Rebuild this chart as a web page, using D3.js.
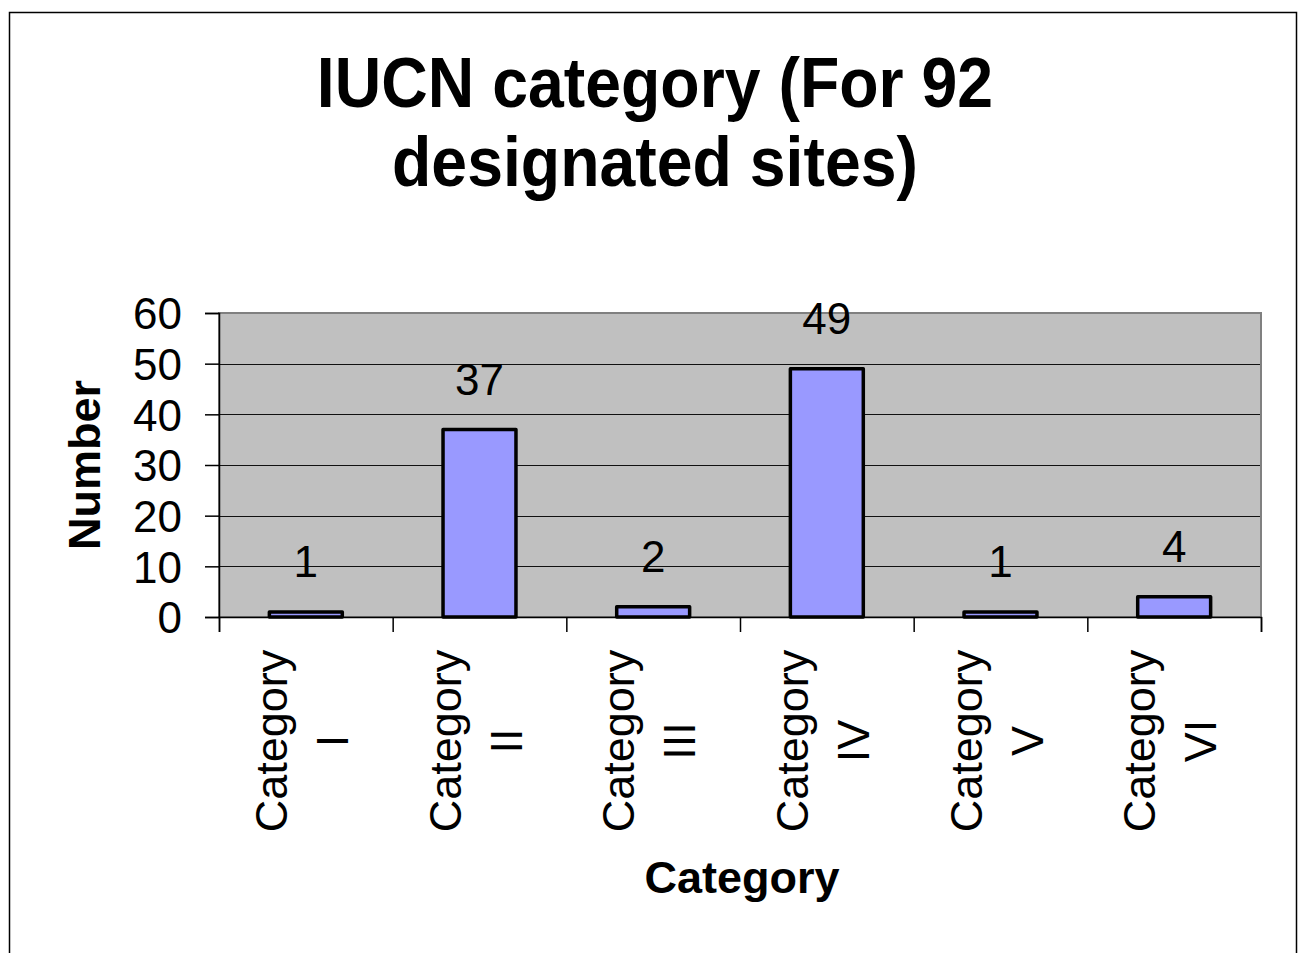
<!DOCTYPE html>
<html>
    <head>
        <meta charset="utf-8">
        <title>IUCN category</title>
        <script src="https://cdn.jsdelivr.net/npm/d3@7"></script>
        <style>
            body { margin: 0; background: #fff; }
            text { font-family: "Liberation Sans", Arial, sans-serif; fill: #000; }
        </style>
    </head>
    <body>
        <div id="chart"></div>
        <script>
            // data
            const categories = ["Category I", "Category II", "Category III", "Category IV", "Category V", "Category VI"];
            const values = [1, 37, 2, 49, 1, 4];
            const yTicks = [0, 10, 20, 30, 40, 50, 60];
            const titleLines = ["IUCN category (For 92", "designated sites)"];

            const width = 1302, height = 953;
            const plot = {left: 219, right: 1261, top: 313, bottom: 617};

            const svg = d3.select("#chart").append("svg")
                .attr("width", width)
                .attr("height", height);

            // outer frame (bottom is cut off in the original)
            svg.append("path")
                .attr("d", `M9.5,${height} V12.5 H1296.5 V${height}`)
                .attr("fill", "none")
                .attr("stroke", "#000")
                .attr("stroke-width", 1.5);

            const x = d3.scaleBand()
                .domain(categories)
                .range([plot.left, plot.right])
                .padding(0);
            const xEdges = d3.scaleLinear()
                .domain([0, categories.length])
                .range([plot.left, plot.right]);
            const y = d3.scaleLinear()
                .domain([0, 60])
                .range([plot.bottom, plot.top]);

            // plot area
            svg.append("rect")
                .attr("x", plot.left)
                .attr("y", plot.top)
                .attr("width", plot.right - plot.left)
                .attr("height", plot.bottom - plot.top)
                .attr("fill", "#c0c0c0")
                .attr("stroke", "#808080")
                .attr("stroke-width", 2);

            // gridlines
            svg.append("g")
                .selectAll("line")
                .data(yTicks.filter(d => d > 0 && d < 60))
                .join("line")
                .attr("x1", plot.left)
                .attr("x2", plot.right - 1)
                .attr("y1", d => Math.round(y(d)) + 0.5)
                .attr("y2", d => Math.round(y(d)) + 0.5)
                .attr("stroke", "#111")
                .attr("stroke-width", 1);

            // bars
            const barW = x.bandwidth() * 0.42;
            svg.append("g")
                .selectAll("rect")
                .data(values)
                .join("rect")
                .attr("x", (d, i) => x(categories[i]) + (x.bandwidth() - barW) / 2)
                .attr("y", d => y(d))
                .attr("width", barW)
                .attr("height", d => y(0) - y(d))
                .attr("fill", "#9999ff")
                .attr("stroke", "#000")
                .attr("stroke-width", 3.5)
                .attr("stroke-linejoin", "round");

            // value labels
            svg.append("g")
                .selectAll("text")
                .data(values)
                .join("text")
                .attr("x", (d, i) => x(categories[i]) + x.bandwidth() / 2)
                .attr("y", d => y(d) - 35)
                .attr("text-anchor", "middle")
                .style("font-size", "44px")
                .text(d => d);

            // y axis
            const yAxis = svg.append("g")
                .attr("transform", `translate(${plot.left},0)`)
                .call(d3.axisLeft(y).tickValues(yTicks).tickSize(14).tickPadding(23));
            yAxis.select(".domain").attr("stroke", "#000").attr("stroke-width", 1.5);
            yAxis.selectAll(".tick line").attr("stroke", "#000").attr("stroke-width", 1.5);
            yAxis.selectAll(".tick text")
                .attr("dy", "0.36em")
                .style("font-size", "44px")
                .style("font-family", "'Liberation Sans', Arial, sans-serif");

            // x axis: tick marks on the category edges
            const xAxis = svg.append("g")
                .attr("transform", `translate(0,${plot.bottom})`)
                .call(d3.axisBottom(xEdges).ticks(categories.length).tickSize(15).tickFormat(""));
            xAxis.select(".domain").attr("stroke", "#000").attr("stroke-width", 1.5);
            xAxis.selectAll(".tick line").attr("stroke", "#000").attr("stroke-width", 1.5);

            // category labels, rotated, two lines
            const catLabel = svg.append("g")
                .selectAll("text")
                .data(categories)
                .join("text")
                .attr("transform", d => `translate(${x(d) + x.bandwidth() / 2},741) rotate(-90)`)
                .attr("text-anchor", "middle")
                .style("font-size", "45px");
            catLabel.append("tspan")
                .attr("x", 0)
                .attr("y", -19)
                .text(d => d.split(" ")[0]);
            catLabel.append("tspan")
                .attr("x", 0)
                .attr("y", 42)
                .text(d => d.split(" ")[1]);

            // axis titles
            svg.append("text")
                .attr("x", 742)
                .attr("y", 893)
                .attr("text-anchor", "middle")
                .style("font-size", "45px")
                .style("font-weight", "bold")
                .text("Category");

            svg.append("text")
                .attr("transform", "translate(100,465) rotate(-90)")
                .attr("text-anchor", "middle")
                .style("font-size", "45px")
                .style("font-weight", "bold")
                .text("Number");

            // title
            svg.append("g")
                .attr("transform", "translate(655,0) scale(0.92,1)")
                .selectAll("text")
                .data(titleLines)
                .join("text")
                .attr("x", 0)
                .attr("y", (d, i) => 107 + i * 79)
                .attr("text-anchor", "middle")
                .style("font-size", "70px")
                .style("font-weight", "bold")
                .text(d => d);
        </script>
    </body>
</html>
